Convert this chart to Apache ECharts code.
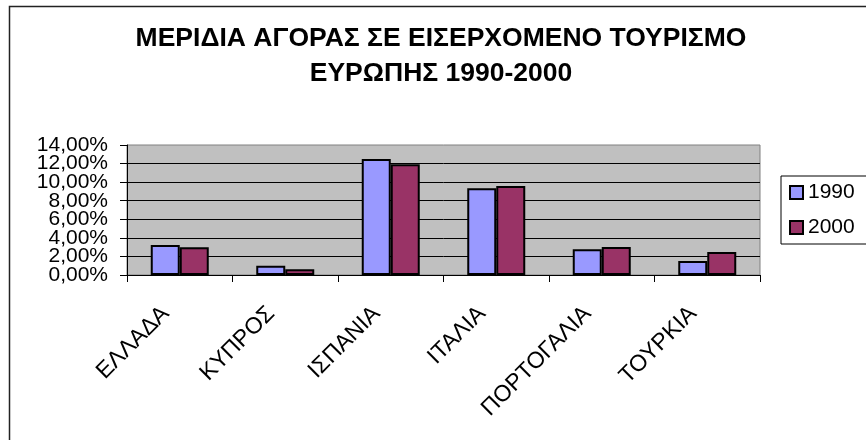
<!DOCTYPE html>
<html lang="el">
<head>
    <meta charset="UTF-8">
    <title>Μερίδια αγοράς</title>
    <script src="https://cdn.jsdelivr.net/npm/echarts@6/dist/echarts.min.js"></script>
    <style>
        html, body { margin: 0; padding: 0; background: #fff; }
        #chart { width: 866px; height: 440px; }
    </style>
</head>
<body>
<div id="chart"></div>
<script>
    const countries = ['ΕΛΛΑΔΑ', 'ΚΥΠΡΟΣ', 'ΙΣΠΑΝΙΑ', 'ΙΤΑΛΙΑ', 'ΠΟΡΤΟΓΑΛΙΑ', 'ΤΟΥΡΚΙΑ'];
    const share1990 = [3.23, 1.00, 12.50, 9.33, 2.76, 1.51];
    const share2000 = [2.98, 0.61, 11.92, 9.58, 3.01, 2.48];
    const seriesNames = ['1990', '2000'];
    const seriesColors = ['#9999ff', '#993366'];
    const yMin = 0, yMax = 14, yStep = 2;

    const font = 'Arial, "Liberation Sans", sans-serif';
    const pct = v => v.toFixed(2).replace('.', ',') + '%';
    const yLabelStyle = { margin: 19, fontFamily: font, fontSize: 21, color: '#000' };

    const chart = echarts.init(document.getElementById('chart'));
    const option = {
        animation: false,
        backgroundColor: '#ffffff',
        title: {
            text: 'ΜΕΡΙΔΙΑ ΑΓΟΡΑΣ ΣΕ ΕΙΣΕΡΧΟΜΕΝΟ ΤΟΥΡΙΣΜΟ\nΕΥΡΩΠΗΣ 1990-2000',
            left: 441,
            top: 21,
            padding: 0,
            textAlign: 'center',
            textStyle: {
                fontFamily: font,
                fontSize: 26.5,
                fontWeight: 'bold',
                color: '#000',
                lineHeight: 35
            }
        },
        graphic: [{
            type: 'rect',
            silent: true,
            shape: { x: 9.5, y: 6.5, width: 1000, height: 1000 },
            style: { fill: 'none', stroke: '#222', lineWidth: 1.5 }
        }],
        legend: {
            orient: 'vertical',
            left: 781,
            top: 176,
            padding: [6, 12, 6, 8],
            itemGap: 14,
            itemWidth: 13,
            itemHeight: 13,
            borderColor: '#000',
            borderWidth: 1,
            backgroundColor: '#fff',
            textStyle: { fontFamily: font, fontSize: 21, color: '#000' },
            data: seriesNames.map((n, i) => ({
                name: n,
                icon: 'rect',
                itemStyle: { color: seriesColors[i], borderColor: '#000', borderWidth: 2 }
            }))
        },
        grid: {
            left: 127,
            right: 106,
            top: 145,
            bottom: 165,
            show: true,
            backgroundColor: '#c0c0c0',
            borderColor: '#808080',
            borderWidth: 1,
            containLabel: false
        },
        xAxis: {
            type: 'category',
            data: countries,
            axisLine: { lineStyle: { color: '#000', width: 1 } },
            axisTick: { show: true, length: 7, lineStyle: { color: '#000' } },
            axisLabel: {
                rotate: 45,
                margin: 21,
                interval: 0,
                padding: [0, 20, 0, 0],
                fontFamily: font,
                fontSize: 23,
                color: '#000'
            },
            splitLine: { show: false }
        },
        yAxis: [
            {
                // inner labels (2% .. 12%)
                type: 'value',
                min: yMin,
                max: yMax,
                interval: yStep,
                position: 'left',
                axisLine: { show: true, lineStyle: { color: '#000', width: 1 } },
                axisTick: { show: true, length: 7, lineStyle: { color: '#000' } },
                axisLabel: Object.assign({}, yLabelStyle, {
                    showMinLabel: false,
                    showMaxLabel: false,
                    formatter: pct
                }),
                splitLine: {
                    show: true,
                    showMinLine: false,
                    showMaxLine: false,
                    lineStyle: { color: '#000', width: 1 }
                }
            },
            {
                // end labels (0% and 14%), labels are tightly packed in the original
                type: 'value',
                min: yMin,
                max: yMax,
                interval: yStep,
                position: 'left',
                offset: 0,
                axisLine: { show: false },
                axisTick: { show: true, length: 7, lineStyle: { color: '#000' } },
                axisLabel: Object.assign({}, yLabelStyle, {
                    showMinLabel: true,
                    showMaxLabel: true,
                    formatter: v => (v === yMin || v === yMax) ? pct(v) : ''
                }),
                splitLine: { show: false }
            }
        ],
        series: [
            {
                name: seriesNames[0],
                type: 'bar',
                data: share1990,
                barWidth: 29,
                barGap: '0%',
                itemStyle: { color: seriesColors[0], borderColor: '#000', borderWidth: 2 }
            },
            {
                name: seriesNames[1],
                type: 'bar',
                data: share2000,
                barWidth: 29,
                barGap: '0%',
                itemStyle: { color: seriesColors[1], borderColor: '#000', borderWidth: 2 }
            }
        ]
    };
    chart.setOption(option);
</script>
</body>
</html>
